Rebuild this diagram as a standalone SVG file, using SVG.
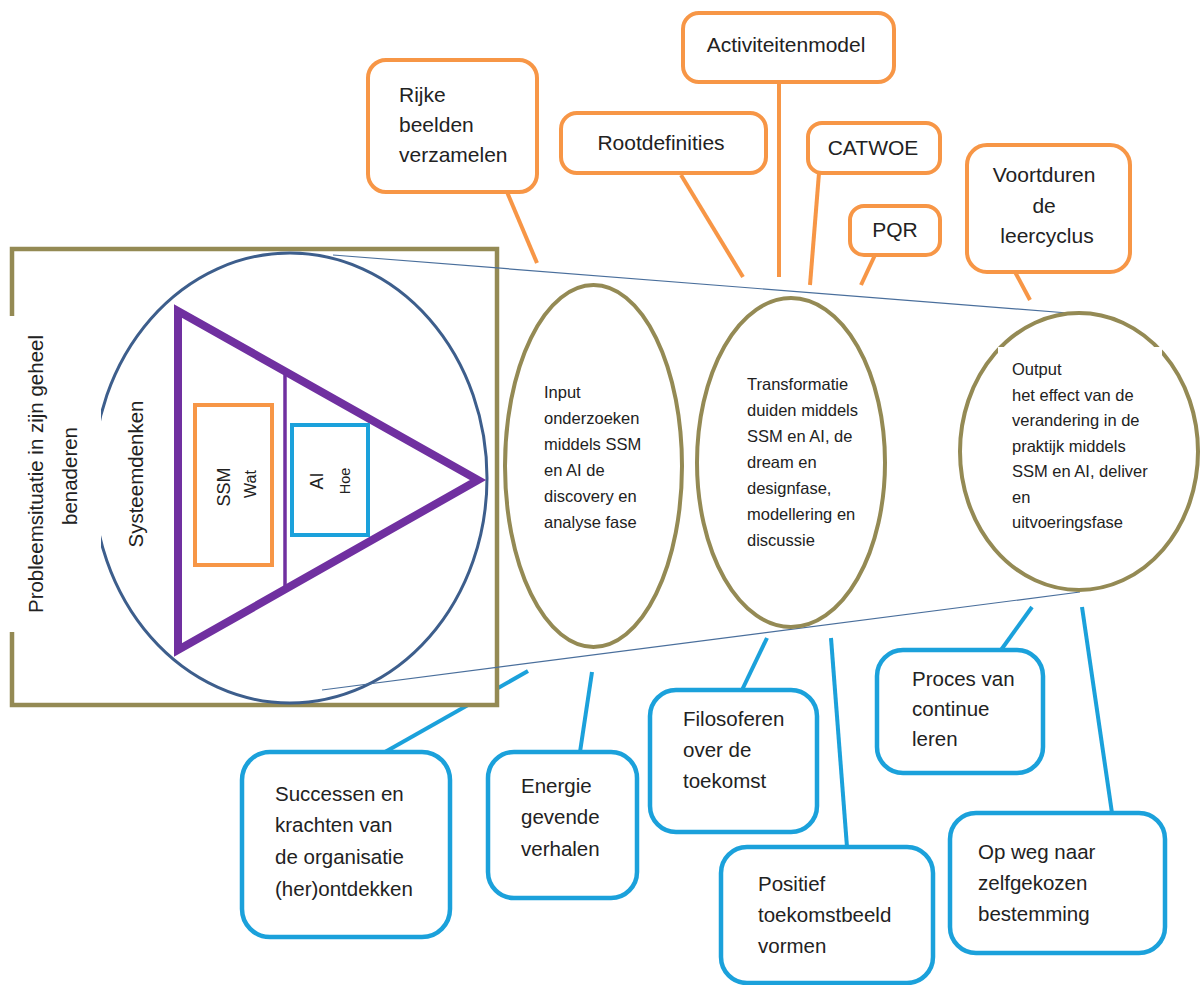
<svg xmlns="http://www.w3.org/2000/svg" width="1201" height="985" viewBox="0 0 1201 985">
  <style>
    .t { font-family: "Liberation Sans", Arial, sans-serif; fill: #222; }
    .tb { font-size: 21px; }
    .bt { font-size: 20.5px; }
    .et { font-size: 16.5px; }
    .ob { fill: #fff; stroke: #F79646; stroke-width: 4; }
    .bb { fill: #fff; stroke: #1BA1DB; stroke-width: 4.5; }
    .oc { stroke: #F79646; stroke-width: 4; fill: none; }
    .bc { stroke: #1BA1DB; stroke-width: 4; fill: none; }
    .phase { fill: #fff; stroke: #948A54; stroke-width: 4; }
    .proj { stroke: #4A6F9C; stroke-width: 1.2; fill: none; }
  </style>
  <rect width="1201" height="985" fill="#fff"/>

  <!-- callout connectors -->
  <g id="connectors">
    <line class="oc" x1="507" y1="192" x2="537" y2="263"/>
    <line class="oc" x1="681" y1="175" x2="743" y2="277"/>
    <line class="oc" x1="779" y1="82" x2="779" y2="277"/>
    <line class="oc" x1="819" y1="173" x2="810" y2="285"/>
    <line class="oc" x1="875" y1="255" x2="861" y2="285"/>
    <line class="oc" x1="1015" y1="272" x2="1030" y2="300"/>
    <line class="bc" x1="385" y1="752" x2="528" y2="671"/>
    <line class="bc" x1="580" y1="752" x2="592" y2="672"/>
    <line class="bc" x1="742" y1="690" x2="767" y2="638"/>
    <line class="bc" x1="847" y1="847" x2="831" y2="638"/>
    <line class="bc" x1="1001" y1="650" x2="1032" y2="607"/>
    <line class="bc" x1="1112" y1="813" x2="1082" y2="607"/>
  </g>

  <!-- problem situation: systems thinking triangle -->
  <g id="probleemsituatie">
    <rect x="12" y="249" width="485" height="456" fill="#fff" stroke="#948A54" stroke-width="4.5"/>
    <ellipse cx="290" cy="478" rx="197" ry="225" fill="none" stroke="#3D5E8C" stroke-width="3"/>
    <rect x="7" y="316" width="94" height="316" fill="#fff"/>
    <path d="M178 311 L178 650 L478 480 Z" fill="none" stroke="#7030A0" stroke-width="8" stroke-linejoin="miter"/>
    <line x1="285" y1="371" x2="285" y2="590" stroke="#7030A0" stroke-width="3.5"/>
    <rect x="195" y="405" width="77" height="160" fill="none" stroke="#F79646" stroke-width="4"/>
    <rect x="292" y="425" width="76" height="110" fill="none" stroke="#1BA1DB" stroke-width="4"/>
    <text class="t" font-size="20.5" text-anchor="middle" transform="translate(43,474) rotate(-90)">Probleemsituatie in zijn geheel</text>
    <text class="t" font-size="20.5" text-anchor="middle" transform="translate(77,476) rotate(-90)">benaderen</text>
    <text class="t" font-size="20.5" text-anchor="middle" transform="translate(143,474) rotate(-90)">Systeemdenken</text>
    <text class="t" font-size="18" text-anchor="middle" transform="translate(230,487) rotate(-90)">SSM</text>
    <text class="t" font-size="16" text-anchor="middle" transform="translate(256,484) rotate(-90)">Wat</text>
    <text class="t" font-size="18" text-anchor="middle" transform="translate(323,481) rotate(-90)">AI</text>
    <text class="t" font-size="14.5" text-anchor="middle" transform="translate(350,481) rotate(-90)">Hoe</text>
  </g>

  <!-- projection lines from the whole towards the output -->
  <g id="projectie">
    <line class="proj" x1="333" y1="255" x2="1068" y2="313"/>
    <line class="proj" x1="322" y1="690" x2="1080" y2="592"/>
  </g>

  <!-- phases -->
  <g id="input">
    <ellipse class="phase" cx="593.5" cy="466" rx="88.5" ry="181"/>
    <text class="t et">
      <tspan x="544" y="398">Input</tspan>
      <tspan x="544" y="424">onderzoeken</tspan>
      <tspan x="544" y="450">middels SSM</tspan>
      <tspan x="544" y="476">en AI de</tspan>
      <tspan x="544" y="502">discovery en</tspan>
      <tspan x="544" y="528">analyse fase</tspan>
    </text>
  </g>
  <g id="transformatie">
    <ellipse class="phase" cx="791" cy="462.5" rx="94" ry="164.5"/>
    <text class="t et">
      <tspan x="747" y="390">Transformatie</tspan>
      <tspan x="747" y="416">duiden middels</tspan>
      <tspan x="747" y="442">SSM en AI, de</tspan>
      <tspan x="747" y="468">dream en</tspan>
      <tspan x="747" y="494">designfase,</tspan>
      <tspan x="747" y="520">modellering en</tspan>
      <tspan x="747" y="546">discussie</tspan>
    </text>
  </g>
  <g id="output">
    <ellipse class="phase" cx="1079" cy="451.5" rx="119" ry="138.5"/>
    <rect x="998" y="347" width="164" height="200" fill="#fff"/>
    <text class="t et">
      <tspan x="1012" y="375">Output</tspan>
      <tspan x="1012" y="401">het effect van de</tspan>
      <tspan x="1012" y="426">verandering in de</tspan>
      <tspan x="1012" y="452">praktijk middels</tspan>
      <tspan x="1012" y="477">SSM en AI, deliver</tspan>
      <tspan x="1012" y="503">en</tspan>
      <tspan x="1012" y="528">uitvoeringsfase</tspan>
    </text>
  </g>

  <!-- SSM callouts -->
  <g id="rijke-beelden">
    <rect class="ob" x="368" y="60" width="169" height="132" rx="18"/>
    <text class="t tb">
      <tspan x="399" y="102">Rijke</tspan>
      <tspan x="399" y="132">beelden</tspan>
      <tspan x="399" y="162">verzamelen</tspan>
    </text>
  </g>
  <g id="rootdefinities">
    <rect class="ob" x="561" y="113" width="205" height="60" rx="16"/>
    <text class="t tb" x="661" y="150" text-anchor="middle">Rootdefinities</text>
  </g>
  <g id="activiteitenmodel">
    <rect class="ob" x="683" y="13" width="211" height="69" rx="16"/>
    <text class="t tb" x="786" y="52" text-anchor="middle">Activiteitenmodel</text>
  </g>
  <g id="catwoe">
    <rect class="ob" x="808" y="123" width="132" height="50" rx="14"/>
    <text class="t tb" x="873" y="155" text-anchor="middle">CATWOE</text>
  </g>
  <g id="pqr">
    <rect class="ob" x="850" y="206" width="90" height="49" rx="14"/>
    <text class="t tb" x="895" y="237" text-anchor="middle">PQR</text>
  </g>
  <g id="voortduren">
    <rect class="ob" x="967" y="145" width="163" height="127" rx="20"/>
    <text class="t tb" text-anchor="middle">
      <tspan x="1047" y="182">Voortduren</tspan>
      <tspan x="1047" y="213">de</tspan>
      <tspan x="1047" y="243">leercyclus</tspan>
    </text>
  </g>

  <!-- AI callouts -->
  <g id="successen">
    <rect class="bb" x="242" y="752" width="208" height="185" rx="28"/>
    <text class="t bt">
      <tspan x="275" y="801">Successen en</tspan>
      <tspan x="275" y="832">krachten van</tspan>
      <tspan x="275" y="864">de organisatie</tspan>
      <tspan x="275" y="896">(her)ontdekken</tspan>
    </text>
  </g>
  <g id="energie">
    <rect class="bb" x="488" y="752" width="149" height="146" rx="26"/>
    <text class="t bt">
      <tspan x="521" y="793">Energie</tspan>
      <tspan x="521" y="824">gevende</tspan>
      <tspan x="521" y="856">verhalen</tspan>
    </text>
  </g>
  <g id="filosoferen">
    <rect class="bb" x="650" y="690" width="167" height="142" rx="26"/>
    <text class="t bt">
      <tspan x="683" y="726">Filosoferen</tspan>
      <tspan x="683" y="757">over de</tspan>
      <tspan x="683" y="788">toekomst</tspan>
    </text>
  </g>
  <g id="positief">
    <rect class="bb" x="721" y="847" width="212" height="136" rx="26"/>
    <text class="t bt">
      <tspan x="758" y="891">Positief</tspan>
      <tspan x="758" y="922">toekomstbeeld</tspan>
      <tspan x="758" y="953">vormen</tspan>
    </text>
  </g>
  <g id="proces">
    <rect class="bb" x="877" y="650" width="166" height="123" rx="26"/>
    <text class="t bt">
      <tspan x="912" y="686">Proces van</tspan>
      <tspan x="912" y="716">continue</tspan>
      <tspan x="912" y="746">leren</tspan>
    </text>
  </g>
  <g id="op-weg">
    <rect class="bb" x="950" y="813" width="215" height="140" rx="26"/>
    <text class="t bt">
      <tspan x="978" y="859">Op weg naar</tspan>
      <tspan x="978" y="890">zelfgekozen</tspan>
      <tspan x="978" y="921">bestemming</tspan>
    </text>
  </g>
</svg>
